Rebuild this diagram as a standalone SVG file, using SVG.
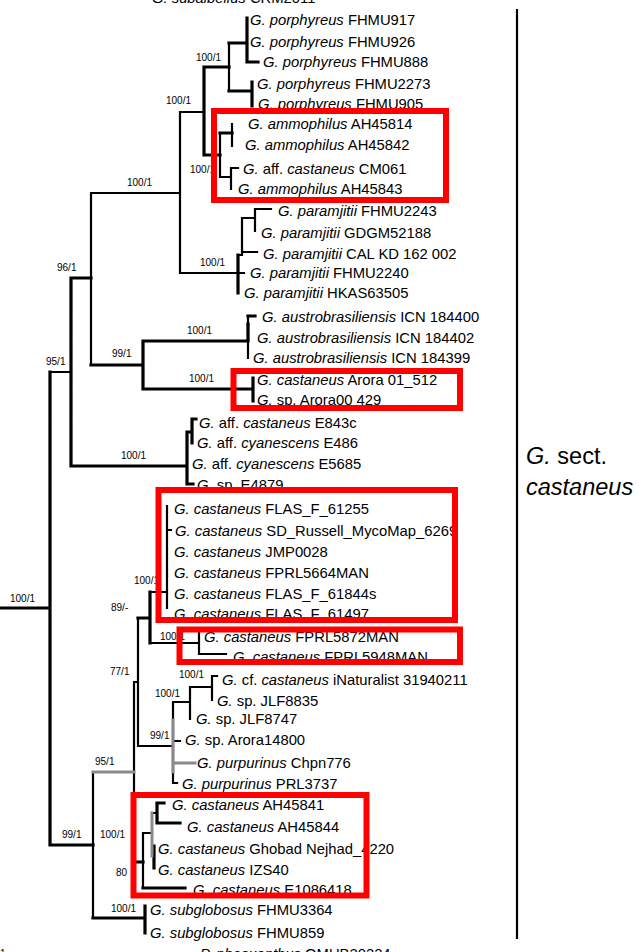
<svg xmlns="http://www.w3.org/2000/svg" width="639" height="952" viewBox="0 0 639 952">
<style>
.l{font-family:"Liberation Sans",Arial,sans-serif;font-size:14.8px;fill:#000}
.i{font-style:italic}
.s{font-family:"Liberation Sans",Arial,sans-serif;font-size:10px;fill:#000}
.big{font-family:"Liberation Sans",Arial,sans-serif;font-size:23.5px;fill:#000}
.br{fill:none;stroke:#000;stroke-width:2.2;stroke-linecap:square}
.tk{stroke-width:3.2}
.gr{stroke:#8a8a8a;stroke-width:3}
.box{fill:none;stroke:#ff0000;stroke-width:6}
</style>
<rect width="639" height="952" fill="#fff"/>
<g id="connectors">
<path class="br" d="M50 372H71M91 193V365M91 193H180M180 112V273M180 112H204M180 273H238M229 43V91M220 133V177M232 124V146M220 177H231M231 168V189M231 168H238M242 218V255M238 255H242M238 273H244M242 218H255M255 209V231M255 209H271M242 252H257M248 316V358M93 772V918M134 682V862M134 682H138M138 618V746M138 746H173M150 592H167M167 506V608M167 530H171M150 643H199M199 633V654M199 654H226M173 702V783M173 702H190M190 687V719M190 687H212M212 676V700M212 676H217M173 741H180M173 783H177M143 833V888M143 833H152M152 813H157M152 856H154"/>
<path class="br tk" d="M0 608H50M50 372V845M71 278V466M71 278H91M71 466H187M91 365H143M204 67V155M204 67H229M204 155H220M229 43H247M229 91H252M247 18V62M247 62H258M252 82V106M220 133H232M238 255V293M143 341V389M143 341H248M143 389H253M248 316H255M248 324V338M253 378V401M187 432V484M187 432H192M192 419V443M192 419H196M187 484H193M50 845H93M93 918H145M145 906V933M138 618H150M150 592V643M134 862H143M154 846V868M157 803V823M157 803H164M157 823H180M143 888H185"/>
<path class="br gr" d="M93 772H134M173 720V772M173 763H195M152 813V856"/>
<path class="br" d="M517 10V938"/>
</g>
<g id="support">
<text class="s" x="196" y="61">100/1</text>
<text class="s" x="166" y="104">100/1</text>
<text class="s" x="190" y="173">100/1</text>
<text class="s" x="127" y="186">100/1</text>
<text class="s" x="200" y="266">100/1</text>
<text class="s" x="57" y="271">96/1</text>
<text class="s" x="187" y="334">100/1</text>
<text class="s" x="112" y="357">99/1</text>
<text class="s" x="189" y="382">100/1</text>
<text class="s" x="46" y="365">95/1</text>
<text class="s" x="121" y="459">100/1</text>
<text class="s" x="10" y="602">100/1</text>
<text class="s" x="134" y="584">100/1</text>
<text class="s" x="111" y="611">89/-</text>
<text class="s" x="160" y="640">100/1</text>
<text class="s" x="110" y="675">77/1</text>
<text class="s" x="179" y="678">100/1</text>
<text class="s" x="155" y="697">100/1</text>
<text class="s" x="150" y="739">99/1</text>
<text class="s" x="95" y="765">95/1</text>
<text class="s" x="62" y="838">99/1</text>
<text class="s" x="100" y="838">100/1</text>
<text class="s" x="116" y="876">80</text>
<text class="s" x="111" y="912">100/1</text>
<text class="s" x="0" y="957">1</text>
</g>
<g id="t-top"><text class="l" x="152" y="3"><tspan class="i">G. subalbellus</tspan> CRM2011</text></g>
<g id="t01"><text class="l" x="250" y="25"><tspan class="i">G. porphyreus</tspan> FHMU917</text></g>
<g id="t02"><text class="l" x="250" y="47"><tspan class="i">G. porphyreus</tspan> FHMU926</text></g>
<g id="t03"><text class="l" x="263" y="67"><tspan class="i">G. porphyreus</tspan> FHMU888</text></g>
<g id="t04"><text class="l" x="257" y="89"><tspan class="i">G. porphyreus</tspan> FHMU2273</text></g>
<g id="t05"><text class="l" x="258" y="109"><tspan class="i">G. porphyreus</tspan> FHMU905</text></g>
<g id="t06"><text class="l" x="248" y="129"><tspan class="i">G. ammophilus</tspan> AH45814</text></g>
<g id="t07"><text class="l" x="245" y="150"><tspan class="i">G. ammophilus</tspan> AH45842</text></g>
<g id="t08"><text class="l" x="243" y="174"><tspan class="i">G.</tspan> aff. <tspan class="i">castaneus</tspan> CM061</text></g>
<g id="t09"><text class="l" x="238" y="194"><tspan class="i">G. ammophilus</tspan> AH45843</text></g>
<g id="t10"><text class="l" x="278" y="216"><tspan class="i">G. paramjitii</tspan> FHMU2243</text></g>
<g id="t11"><text class="l" x="261" y="238"><tspan class="i">G. paramjitii</tspan> GDGM52188</text></g>
<g id="t12"><text class="l" x="263" y="259"><tspan class="i">G. paramjitii</tspan> CAL KD 162 002</text></g>
<g id="t13"><text class="l" x="250" y="278"><tspan class="i">G. paramjitii</tspan> FHMU2240</text></g>
<g id="t14"><text class="l" x="244" y="298"><tspan class="i">G. paramjitii</tspan> HKAS63505</text></g>
<g id="t15"><text class="l" x="262" y="322"><tspan class="i">G. austrobrasiliensis</tspan> ICN 184400</text></g>
<g id="t16"><text class="l" x="257" y="343"><tspan class="i">G. austrobrasiliensis</tspan> ICN 184402</text></g>
<g id="t17"><text class="l" x="253" y="363"><tspan class="i">G. austrobrasiliensis</tspan> ICN 184399</text></g>
<g id="t18"><text class="l" x="257" y="385"><tspan class="i">G. castaneus</tspan> Arora 01_512</text></g>
<g id="t19"><text class="l" x="257" y="405"><tspan class="i">G.</tspan> sp. Arora00 429</text></g>
<g id="t20"><text class="l" x="199" y="428"><tspan class="i">G.</tspan> aff. <tspan class="i">castaneus</tspan> E843c</text></g>
<g id="t21"><text class="l" x="197" y="448"><tspan class="i">G.</tspan> aff. <tspan class="i">cyanescens</tspan> E486</text></g>
<g id="t22"><text class="l" x="192" y="469"><tspan class="i">G.</tspan> aff. <tspan class="i">cyanescens</tspan> E5685</text></g>
<g id="t23"><text class="l" x="197" y="490"><tspan class="i">G.</tspan> sp. E4879</text></g>
<g id="t24"><text class="l" x="174" y="514"><tspan class="i">G. castaneus</tspan> FLAS_F_61255</text></g>
<g id="t25"><text class="l" x="175" y="536"><tspan class="i">G. castaneus</tspan> SD_Russell_MycoMap_6269</text></g>
<g id="t26"><text class="l" x="174" y="557"><tspan class="i">G. castaneus</tspan> JMP0028</text></g>
<g id="t27"><text class="l" x="174" y="578"><tspan class="i">G. castaneus</tspan> FPRL5664MAN</text></g>
<g id="t28"><text class="l" x="174" y="599"><tspan class="i">G. castaneus</tspan> FLAS_F_61844s</text></g>
<g id="t29"><text class="l" x="174" y="619"><tspan class="i">G. castaneus</tspan> FLAS_F_61497</text></g>
<g id="t30"><text class="l" x="204" y="642"><tspan class="i">G. castaneus</tspan> FPRL5872MAN</text></g>
<g id="t31"><text class="l" x="233" y="662"><tspan class="i">G. castaneus</tspan> FPRL5948MAN</text></g>
<g id="t32"><text class="l" x="222" y="685"><tspan class="i">G.</tspan> cf. <tspan class="i">castaneus</tspan> iNaturalist 31940211</text></g>
<g id="t33"><text class="l" x="217" y="706"><tspan class="i">G.</tspan> sp. JLF8835</text></g>
<g id="t34"><text class="l" x="196" y="724"><tspan class="i">G.</tspan> sp. JLF8747</text></g>
<g id="t35"><text class="l" x="185" y="745"><tspan class="i">G.</tspan> sp. Arora14800</text></g>
<g id="t36"><text class="l" x="197" y="768"><tspan class="i">G. purpurinus</tspan> Chpn776</text></g>
<g id="t37"><text class="l" x="182" y="789"><tspan class="i">G. purpurinus</tspan> PRL3737</text></g>
<g id="t38"><text class="l" x="172" y="810"><tspan class="i">G. castaneus</tspan> AH45841</text></g>
<g id="t39"><text class="l" x="187" y="832"><tspan class="i">G. castaneus</tspan> AH45844</text></g>
<g id="t40"><text class="l" x="158" y="854"><tspan class="i">G. castaneus</tspan> Ghobad Nejhad_4220</text></g>
<g id="t41"><text class="l" x="158" y="875"><tspan class="i">G. castaneus</tspan> IZS40</text></g>
<g id="t42"><text class="l" x="193" y="895"><tspan class="i">G. castaneus</tspan> E1086418</text></g>
<g id="t43"><text class="l" x="150" y="915"><tspan class="i">G. subglobosus</tspan> FHMU3364</text></g>
<g id="t44"><text class="l" x="150" y="938"><tspan class="i">G. subglobosus</tspan> FHMU859</text></g>
<g id="t-bottom"><text class="l" x="200" y="959"><tspan class="i">P. pheoxanthus</tspan> OMUB20224</text></g>
<g id="highlights">
<rect class="box" x="214" y="111" width="232" height="89"/>
<rect class="box" x="233.5" y="371" width="226.5" height="37"/>
<rect class="box" x="158.5" y="490" width="296.5" height="130"/>
<rect class="box" x="179.5" y="629.5" width="280.5" height="32.5"/>
<rect class="box" x="133.5" y="795" width="233" height="100.5"/>
</g>
<g id="section-label">
<text class="big" x="526" y="464"><tspan class="i">G.</tspan> sect.</text>
<text class="big i" x="526" y="495">castaneus</text>
</g>
</svg>
